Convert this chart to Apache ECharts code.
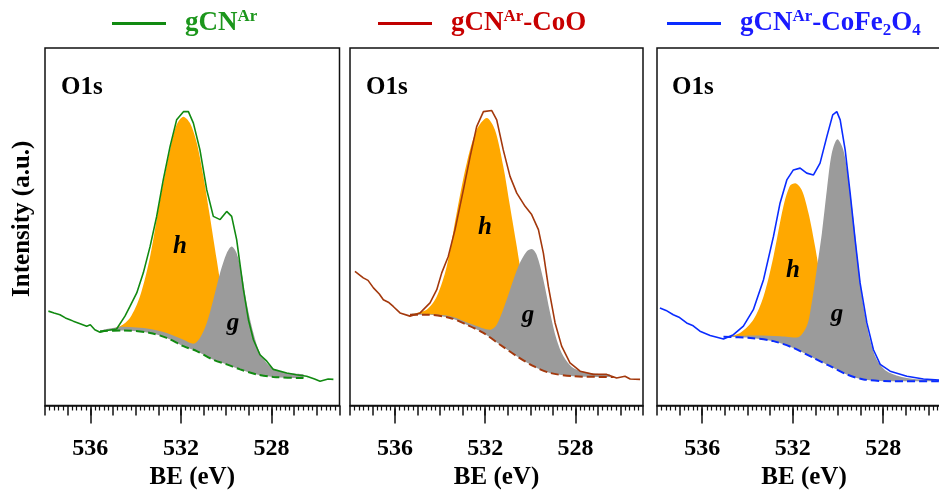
<!DOCTYPE html>
<html>
<head>
<meta charset="utf-8">
<script src="https://cdn.jsdelivr.net/npm/echarts@6/dist/echarts.min.js"></script>
<style>
html,body{margin:0;padding:0;background:#fff}
#chart{width:939px;height:492px}
</style>
</head>
<body>
<div id="chart"></div>
<script>
// values (BE in eV, intensity in a.u. 0..100)
var beLabels = [528, 532, 536];

// gCN-Ar
var p1SpecBE = [537.85,537.6,537.34,537.1,536.9,536.75,536.45,536.16,536.0,535.8,535.57,535.28,534.84,534.47,534.25,533.95,533.66,533.36,533.07,532.78,532.48,532.19,531.89,531.67,531.45,531.16,530.86,530.57,530.27,529.98,529.76,529.54,529.24,529.02,528.8,528.51,528.21,527.92,527.33,526.9,526.45,526.1,525.86,525.5,525.27];
var p1SpecI  = [26.4,25.9,25.4,24.5,24.0,23.6,22.9,22.2,22.6,21.2,20.5,21.0,21.4,25.0,27.7,31.5,37.1,44.5,52.9,63.1,72.4,79.9,82.2,82.2,79.0,71.5,60.3,52.9,52.0,54.3,52.9,46.4,32.4,24.0,18.4,14.2,12.4,10.1,9.1,8.6,8.2,7.4,6.8,7.4,7.3];
var p1BgBE = [535.57,534.54,533.36,532.63,531.89,531.3,530.57,529.98,529.39,528.65,527.92,526.74,526.4];
var p1BgI  = [20.8,21.0,20.3,18.9,16.6,15.2,12.8,11.5,10.1,8.7,8.0,7.7,7.7];
var p1HBE = [535.28,534.69,534.25,533.81,533.36,532.92,532.48,532.19,531.89,531.6,531.3,531.01,530.72,530.42,530.13,529.83,529.39,528.8,527.92,526.74];
var p1HI  = [21.2,22.2,24.5,30.5,41.7,57.5,71.5,78.5,80.8,79.0,73.4,64.1,52.9,40.8,29.6,21.2,13.8,10.1,8.4,7.8];
var p1GBE = [535.42,534.54,533.36,532.63,531.89,531.45,531.16,530.86,530.57,530.27,529.98,529.76,529.54,529.32,529.1,528.8,528.51,528.07,527.48,526.59];
var p1GI  = [21.2,22.0,21.4,20.3,18.4,17.3,18.9,23.1,29.6,37.1,42.6,44.5,42.6,37.1,28.7,20.3,14.7,11.0,9.3,8.8];

// gCN-Ar-CoO
var p2SpecBE = [537.78,537.41,537.2,536.96,536.7,536.52,536.3,536.08,535.78,535.34,534.89,534.45,534.15,533.93,533.64,533.34,532.97,532.67,532.38,532.08,531.71,531.49,531.2,530.9,530.6,530.23,529.94,529.64,529.42,529.2,528.9,528.61,528.24,527.79,527.2,526.61,526.17,525.8,525.57,525.13];
var p2SpecI  = [37.5,35.7,35.0,32.9,31.2,29.6,28.9,27.7,25.9,25.0,25.9,28.7,32.4,37.1,41.7,49.2,60.3,69.6,78.0,82.2,82.5,79.9,71.5,64.1,59.4,55.7,53.4,49.2,42.6,33.3,23.1,16.6,11.9,9.6,8.7,8.7,7.7,8.2,7.4,7.3];
var p2BgBE = [535.34,534.6,533.56,532.82,532.08,531.34,530.6,529.86,529.12,528.09,526.61,526.3];
var p2BgI  = [25.4,25.4,24.5,22.6,20.3,17.0,13.8,11.0,9.1,8.2,8.0,8.0];
var p2HBE = [535.19,534.6,534.15,533.71,533.27,532.82,532.38,531.93,531.57,531.2,530.9,530.6,530.31,530.01,529.57,528.98,528.09,526.61];
var p2HI  = [25.7,26.8,30.5,38.9,53.8,67.8,77.1,80.4,77.1,66.9,55.7,44.5,33.3,24.0,15.6,10.5,8.4,7.9];
var p2GBE = [535.26,533.56,532.53,531.79,531.49,531.05,530.75,530.46,530.16,529.94,529.72,529.42,529.12,528.83,528.53,528.09,527.35,526.46];
var p2GI  = [25.7,25.0,22.6,21.2,22.6,29.6,35.2,39.9,43.1,43.8,42.2,35.2,25.9,18.4,13.8,10.5,9.1,8.7];

// gCN-Ar-CoFe2O4
var p3SpecBE = [537.87,537.6,537.28,537.0,536.69,536.4,536.1,535.65,535.06,534.62,534.18,533.74,533.29,532.85,532.56,532.26,531.97,531.67,531.38,531.08,530.79,530.49,530.23,530.05,529.9,529.68,529.46,529.24,529.02,528.72,528.43,528.13,527.69,526.95,526.22,525.52,525.0];
var p3SpecI  = [27.3,26.6,25.4,24.6,23.1,22.3,20.8,19.6,18.6,19.8,22.2,26.8,35.2,47.3,56.6,63.1,65.9,66.4,65.0,64.5,67.8,75.2,81.3,82.2,79.9,71.5,59.4,46.4,34.3,23.1,15.6,11.5,9.6,8.2,7.4,7.1,7.0];
var p3BgBE = [535.06,533.88,532.85,531.97,531.08,530.34,529.61,528.87,527.69,525.63,525.0];
var p3BgI  = [19.2,18.9,18.0,16.1,13.3,11.0,8.7,7.3,6.8,6.8,6.8];
var p3HBE = [534.92,534.33,533.74,533.29,532.85,532.41,532.12,531.89,531.6,531.3,531.01,530.71,530.42,530.05,529.46,528.43,526.95];
var p3HI  = [19.2,20.3,24.0,30.5,41.7,55.7,61.5,62.2,60.3,53.8,44.5,33.3,24.0,16.6,11.0,7.7,6.8];
var p3GBE = [534.99,533.59,532.56,531.82,531.38,531.16,530.94,530.71,530.49,530.27,530.02,529.76,529.53,529.31,529.09,528.87,528.58,528.28,527.84,526.95,525.77];
var p3GI  = [19.4,19.6,19.4,19.0,22.2,28.7,38.0,48.2,60.3,70.6,74.5,71.5,63.1,52.0,38.9,27.7,18.4,12.8,9.6,7.7,7.1];

var serif = '"Liberation Serif", "Times New Roman", serif';

function pts(xs, ys) {
    return xs.map(function (x, i) { return [x, ys[i]]; });
}

var panels = [
    {name: 'gCNAr', line: '#118a11', legendLine: '#118a11', text: '#1c961c',
     spec: pts(p1SpecBE, p1SpecI), bg: pts(p1BgBE, p1BgI), h: pts(p1HBE, p1HI), g: pts(p1GBE, p1GI)},
    {name: 'gCNAr-CoO', line: '#a3380c', legendLine: '#c00000', text: '#c80000',
     spec: pts(p2SpecBE, p2SpecI), bg: pts(p2BgBE, p2BgI), h: pts(p2HBE, p2HI), g: pts(p2GBE, p2GI)},
    {name: 'gCNAr-CoFe2O4', line: '#0a2cff', legendLine: '#0a2cff', text: '#1a1aff',
     spec: pts(p3SpecBE, p3SpecI), bg: pts(p3BgBE, p3BgI), h: pts(p3HBE, p3HI), g: pts(p3GBE, p3GI)}
];

var gridBox = [
    {left: 45, width: 294.5},
    {left: 350, width: 293},
    {left: 657, width: 294}
];
var legendLeft = [112, 378, 667];
var legendFmt = {
    'gCNAr': '{s|}{m|gCN}{sup|Ar}',
    'gCNAr-CoO': '{s|}{m|gCN}{sup|Ar}{m|-CoO}',
    'gCNAr-CoFe2O4': '{s|}{m|gCN}{sup|Ar}{m|-CoFe}{sub|2}{m|O}{sub|4}'
};
var labelPos = [
    {o: [61, 75], h: [180, 247], g: [233, 324]},
    {o: [366, 75], h: [485, 228], g: [528, 316]},
    {o: [672, 75], h: [793, 271], g: [837, 315]}
];

var chart = echarts.init(document.getElementById('chart'));
var grid = [], xAxis = [], yAxis = [], series = [], legend = [], title = [], graphic = [];

panels.forEach(function (p, i) {
    grid.push({
        left: gridBox[i].left, width: gridBox[i].width, top: 48, height: 357.5,
        show: true, borderColor: '#111', borderWidth: 1.5, backgroundColor: 'transparent',
        z: 10, containLabel: false, outerBoundsMode: 'none'
    });
    // minor / 1 eV ticks
    xAxis.push({
        gridIndex: i, type: 'value', min: 525, max: 538, interval: 1, inverse: true,
        position: 'bottom', offset: 3,
        axisLine: {show: true, lineStyle: {color: '#111', width: 1.5}},
        axisTick: {show: true, length: 10, lineStyle: {color: '#111', width: 1.5}},
        minorTick: {show: true, splitNumber: 5, length: 5, lineStyle: {color: '#111', width: 1.2}},
        axisLabel: {show: false},
        splitLine: {show: false}
    });
    // labelled 4 eV ticks
    xAxis.push({
        gridIndex: i, type: 'value', min: 525, max: 538, inverse: true,
        position: 'bottom', offset: 3,
        axisLine: {show: false},
        axisTick: {show: true, length: 15, customValues: beLabels, lineStyle: {color: '#111', width: 1.5}},
        axisLabel: {show: true, customValues: beLabels, margin: 28, color: '#000',
            fontSize: 24, fontWeight: 'bold', fontFamily: serif},
        splitLine: {show: false},
        name: 'BE (eV)', nameLocation: 'middle', nameGap: 57,
        nameTextStyle: {fontSize: 25, fontWeight: 'bold', fontFamily: serif, color: '#000'}
    });
    yAxis.push({
        gridIndex: i, type: 'value', min: 0, max: 100,
        axisLine: {show: false}, axisTick: {show: false}, axisLabel: {show: false},
        splitLine: {show: false},
        name: i === 0 ? 'Intensity (a.u.)' : '', nameLocation: 'middle', nameGap: 10, nameRotate: 90,
        nameTextStyle: {fontSize: 25, fontWeight: 'bold', fontFamily: serif, color: '#000',
            padding: [0, 0, 0, 16]}
    });

    var xa = 2 * i;
    // component h (orange), filled down, then g (gray) over it
    series.push({
        type: 'line', xAxisIndex: xa, yAxisIndex: i, data: p.h, symbol: 'none',
        smooth: 0.3, lineStyle: {width: 0}, areaStyle: {color: '#ffa800', opacity: 1, origin: 'start'},
        silent: true
    });
    series.push({
        type: 'line', xAxisIndex: xa, yAxisIndex: i, data: p.g, symbol: 'none',
        smooth: 0.3, lineStyle: {width: 0}, areaStyle: {color: '#9b9b9b', opacity: 1, origin: 'start'},
        silent: true
    });
    // background (dashed) with white below it
    series.push({
        type: 'line', xAxisIndex: xa, yAxisIndex: i, data: p.bg, symbol: 'none',
        smooth: 0.3, lineStyle: {color: p.line, width: 2, type: [8, 4]},
        areaStyle: {color: '#fff', opacity: 1, origin: 'start'},
        silent: true
    });
    // measured spectrum
    series.push({
        name: p.name, type: 'line', xAxisIndex: xa, yAxisIndex: i, data: p.spec, symbol: 'none',
        color: p.line, lineStyle: {color: p.line, width: 1.6}
    });

    legend.push({
        left: legendLeft[i], top: 8, padding: 0, selectedMode: false,
        data: [{name: p.name, itemStyle: {color: p.legendLine}}],
        icon: 'rect', itemWidth: 54, itemHeight: 3,
        formatter: function (n) { return legendFmt[n]; },
        textStyle: {
            color: p.text, fontFamily: serif, fontWeight: 'bold',
            rich: {
                s: {width: 14},
                m: {fontSize: 27, fontWeight: 'bold', fontFamily: serif, color: p.text, lineHeight: 31},
                sup: {fontSize: 17, fontWeight: 'bold', fontFamily: serif, color: p.text, lineHeight: 24, verticalAlign: 'top'},
                sub: {fontSize: 17, fontWeight: 'bold', fontFamily: serif, color: p.text, lineHeight: 14, verticalAlign: 'bottom'}
            }
        }
    });

    title.push({
        text: 'O1s', left: labelPos[i].o[0], top: labelPos[i].o[1], padding: 0,
        textStyle: {fontSize: 25, fontWeight: 'bold', fontFamily: serif, color: '#000'}
    });
    ['h', 'g'].forEach(function (k) {
        graphic.push({
            type: 'text', x: labelPos[i][k][0], y: labelPos[i][k][1], z: 20,
            style: {text: k, fill: '#000', font: 'italic bold 25px ' + serif,
                textAlign: 'center', textVerticalAlign: 'middle', verticalAlign: 'middle'}
        });
    });
});

chart.setOption({
    animation: false,
    backgroundColor: '#fff',
    title: title,
    legend: legend,
    grid: grid,
    xAxis: xAxis,
    yAxis: yAxis,
    series: series,
    graphic: graphic
});
</script>
</body>
</html>
